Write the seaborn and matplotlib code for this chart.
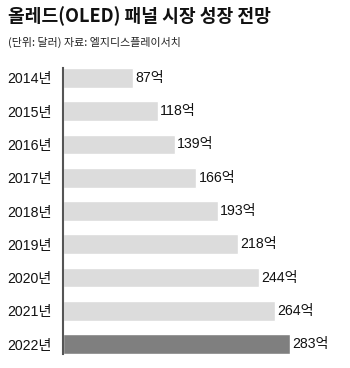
import matplotlib
matplotlib.use("Agg")
import matplotlib.pyplot as plt
import seaborn as sns
import pandas as pd

years = ["2014년", "2015년", "2016년", "2017년", "2018년", "2019년", "2020년", "2021년", "2022년"]
values = [87, 118, 139, 166, 193, 218, 244, 264, 283]
value_labels = ["87억", "118억", "139억", "166억", "193억", "218억", "244억", "264억", "283억"]
bar_colors = ["#dcdcdc"] * 8 + ["#7f7f7f"]

sns.set_theme(style="white")
plt.rcParams["font.family"] = ["Liberation Sans", "Noto Sans CJK KR"]

df = pd.DataFrame({"year": years, "value": values})

fig = plt.figure(figsize=(3.5, 3.68), dpi=100)
ax = fig.add_axes([63 / 350, 14 / 368, 280 / 350, 286 / 368])

sns.barplot(data=df, x="value", y="year", hue="year", palette=bar_colors,
            orient="h", width=0.6, legend=False, ax=ax, saturation=1)

ax.set_xlim(0, 349)
ax.set_ylim(8.3, -0.3)
ax.set_xlabel("")
ax.set_ylabel("")
ax.set_xticks([])
for s in ["top", "right", "bottom"]:
    ax.spines[s].set_visible(False)
ax.spines["left"].set_color("#555555")
ax.spines["left"].set_linewidth(1.5)
ax.tick_params(axis="y", length=0, pad=8, labelsize=10.2, labelcolor="#111111")

for i, (v, lab) in enumerate(zip(values, value_labels)):
    ax.text(v + 3, i, lab, va="center", ha="left", fontsize=10.2, color="#111111")

fig.text(8 / 350, 1 - 16 / 368, "올레드(OLED) 패널 시장 성장 전망", fontsize=13.1,
         fontweight="bold", family=["Noto Sans CJK KR"], va="center", ha="left", color="#111111")
fig.text(8 / 350, 1 - 42 / 368, "(단위: 달러) 자료: 엘지디스플레이서치", fontsize=7.9,
         family=["Noto Sans CJK KR"], va="center", ha="left", color="#222222")

fig.savefig("out.png", dpi=100)
